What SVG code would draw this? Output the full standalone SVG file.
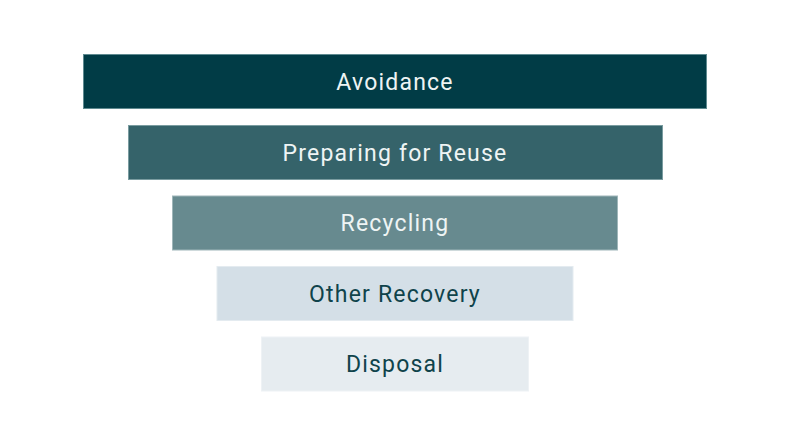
<svg xmlns="http://www.w3.org/2000/svg" width="792" height="446" viewBox="0 0 792 446">
<style>
.bar{stroke-width:1}
.lbl{font-family:Roboto,"Liberation Sans",sans-serif;font-size:23px;letter-spacing:1.2px;text-anchor:middle}
.lt{fill:#eef4f4}
.dk{fill:#0f434b}
</style>
<rect width="792" height="446" fill="#ffffff"/>
<g id="avoidance">
<rect class="bar" x="83.5" y="54.5" width="623" height="54" fill="#013c46" stroke="#5f8a90"/>
<text class="lbl lt" x="395" y="89.5">Avoidance</text>
</g>
<g id="preparing-for-reuse">
<rect class="bar" x="128.5" y="125.5" width="534" height="54" fill="#35636a" stroke="#7a9ca0"/>
<text class="lbl lt" x="395" y="160.5">Preparing for Reuse</text>
</g>
<g id="recycling">
<rect class="bar" x="172.5" y="196" width="445" height="54" fill="#678a8f" stroke="#9fb6b9"/>
<text class="lbl lt" x="395" y="231">Recycling</text>
</g>
<g id="other-recovery">
<rect class="bar" x="217" y="266.5" width="356" height="54" fill="#d4dfe7" stroke="#e4ebf0"/>
<text class="lbl dk" x="395" y="301.5">Other Recovery</text>
</g>
<g id="disposal">
<rect class="bar" x="261.5" y="337" width="267" height="54" fill="#e6ecf0" stroke="#eef2f5"/>
<text class="lbl dk" x="395" y="372">Disposal</text>
</g>
<g id="connectors"></g>
</svg>
